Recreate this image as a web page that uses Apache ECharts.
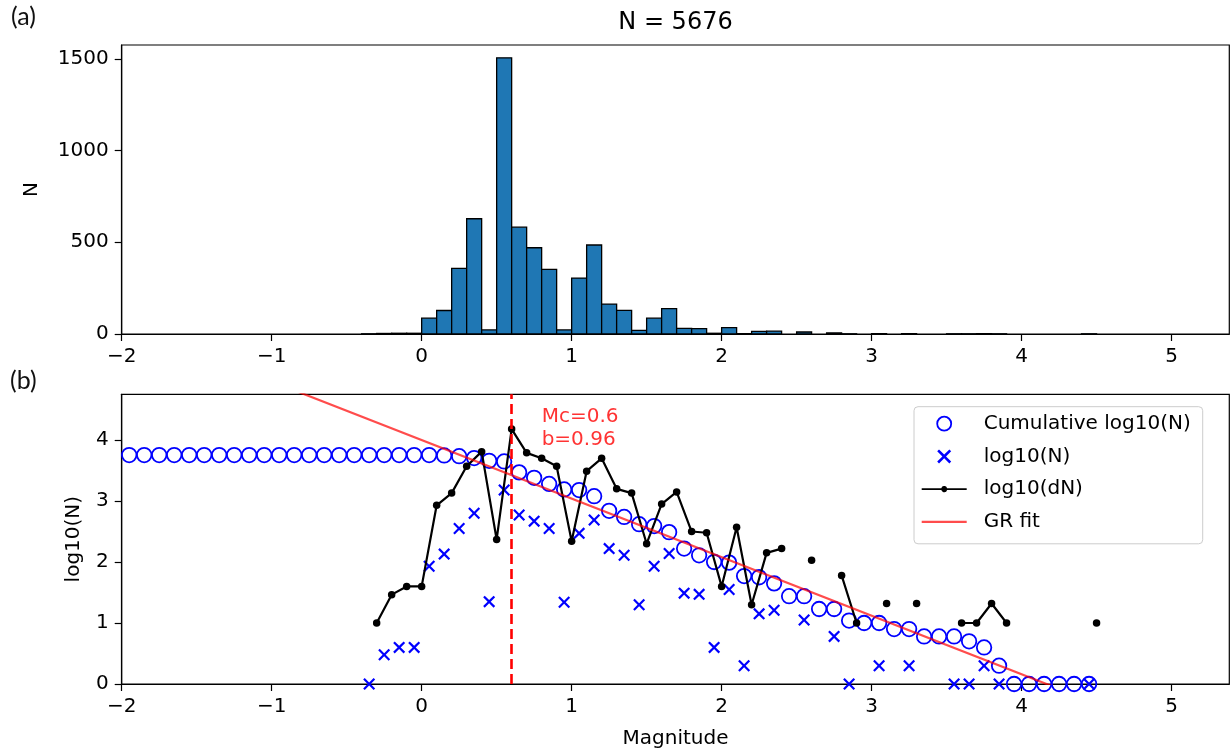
<!DOCTYPE html>
<html><head><meta charset="utf-8">
<script src="https://cdn.jsdelivr.net/npm/echarts@6/dist/echarts.min.js"></script>
<style>html,body{margin:0;padding:0;background:#fff}#c{width:1231px;height:754px}</style>
</head><body><div id="c"></div>
<script>
// ---------- data ----------
const xTicks = [-2, -1, 0, 1, 2, 3, 4, 5];
const histYTicks = [0, 500, 1000, 1500];
const logYTicks = [0, 1, 2, 3, 4];
const binWidth = 0.1;
const totalN = 5676;

// histogram (panel a): bin centres and counts
const histCenters = [-0.35,-0.25,-0.15,-0.05,0.05,0.15,0.25,0.35,0.45,0.55,0.65,0.75,0.85,0.95,1.05,1.15,1.25,1.35,1.45,1.55,1.65,1.75,1.85,1.95,2.05,2.15,2.25,2.35,2.55,2.75,2.85,3.05,3.25,3.55,3.65,3.75,3.85,4.45];
const histCounts  = [1,3,4,4,86,128,358,628,22,1505,582,470,352,22,305,485,163,129,20,86,138,31,29,4,35,2,14,16,11,6,1,2,2,1,1,2,1,1];

// log10(N) per bin (panel b, crosses)
const logNMags   = [-0.35,-0.25,-0.15,-0.05,0.05,0.15,0.25,0.35,0.45,0.55,0.65,0.75,0.85,0.95,1.05,1.15,1.25,1.35,1.45,1.55,1.65,1.75,1.85,1.95,2.05,2.15,2.25,2.35,2.55,2.75,2.85,3.05,3.25,3.55,3.65,3.75,3.85,4.45];
const logNValues = [0,0.48,0.60,0.60,1.93,2.13,2.55,2.80,1.35,3.18,2.77,2.67,2.55,1.34,2.47,2.69,2.22,2.11,1.30,1.93,2.14,1.49,1.47,0.60,1.55,0.30,1.15,1.21,1.05,0.78,0,0.30,0.30,0,0,0.30,0,0];

// cumulative log10(N) (panel b, open circles)
const cumMags = [-1.95,-1.85,-1.75,-1.65,-1.55,-1.45,-1.35,-1.25,-1.15,-1.05,-0.95,-0.85,-0.75,-0.65,-0.55,-0.45,-0.35,-0.25,-0.15,-0.05,0.05,0.15,0.25,0.35,0.45,0.55,0.65,0.75,0.85,0.95,1.05,1.15,1.25,1.35,1.45,1.55,1.65,1.75,1.85,1.95,2.05,2.15,2.25,2.35,2.45,2.55,2.65,2.75,2.85,2.95,3.05,3.15,3.25,3.35,3.45,3.55,3.65,3.75,3.85,3.95,4.05,4.15,4.25,4.35,4.45];
const cumValues = [3.754,3.754,3.754,3.754,3.754,3.754,3.754,3.754,3.754,3.754,3.754,3.754,3.754,3.754,3.754,3.754,3.754,3.754,3.754,3.753,3.753,3.747,3.736,3.705,3.66,3.65,3.47,3.38,3.28,3.19,3.18,3.08,2.84,2.74,2.62,2.59,2.49,2.22,2.11,2.00,1.99,1.77,1.75,1.65,1.44,1.44,1.23,1.23,1.04,1.00,1.00,0.90,0.90,0.78,0.78,0.78,0.70,0.60,0.30,0,0,0,0,0,0];

// log10(dN) (panel b, black line; null = gap)
const dNMags   = [-0.3,-0.2,-0.1,0.0,0.1,0.2,0.3,0.4,0.5,0.6,0.7,0.8,0.9,1.0,1.1,1.2,1.3,1.4,1.5,1.6,1.7,1.8,1.9,2.0,2.1,2.2,2.3,2.4,2.5,2.6,2.7,2.8,2.9,3.0,3.1,3.2,3.3,3.4,3.5,3.6,3.7,3.8,3.9,4.0,4.1,4.2,4.3,4.4,4.5];
const dNValues = [1.00,1.465,1.60,1.60,2.93,3.13,3.57,3.81,2.37,4.18,3.79,3.70,3.57,2.34,3.49,3.70,3.20,3.13,2.30,2.95,3.15,2.50,2.48,1.60,2.57,1.30,2.15,2.22,null,2.03,null,1.78,1.00,null,1.32,null,1.32,null,null,1.00,1.00,1.32,1.00,null,null,null,null,null,1.00];

// Gutenberg-Richter fit and completeness magnitude
const mc = 0.6;
const bValue = 0.96;
const aValue = 4.0;
const fitRange = [-2, 4.5];

const seriesNames = ['Cumulative log10(N)', 'log10(N)', 'log10(dN)', 'GR fit'];

// ---------- chart ----------
const FONT = 'DejaVu Sans';
const xMin = -2, xMax = 5.385;
const gridLeft = 121.7, gridWidth = 1107.6;
const blue = '#0000ff';
const fitColor = 'rgba(255,0,0,0.7)';
const xPath = 'path://M1.3,0 L5,3.7 L8.7,0 L10,1.3 L6.3,5 L10,8.7 L8.7,10 L5,6.3 L1.3,10 L0,8.7 L3.7,5 L0,1.3 Z';
const dNIcon = 'path://M0,3.1 L19.6,3.1 A3,3 0 0,1 25.4,3.1 L45,3.1 L45,4.9 L25.4,4.9 A3,3 0 0,1 19.6,4.9 L0,4.9 Z';
const fitIcon = 'path://M0,0 L45,0 L45,2.2 L0,2.2 Z';

const numFmt = v => (Math.abs(v - Math.round(v)) < 1e-9 ? String(Math.round(v)).replace('-', '\u2212') : '');

function xAxisCfg(gridIndex, withName) {
  const ax = {
    type: 'value', gridIndex, min: xMin, max: xMax, interval: 1,
    axisLine: { show: true, onZero: false, lineStyle: { color: '#000', width: 1.2 } },
    axisTick: { show: true, length: 7, customValues: xTicks, lineStyle: { color: '#000', width: 1.2 } },
    axisLabel: { customValues: xTicks, formatter: numFmt, fontFamily: FONT, fontSize: 20, color: '#000', margin: 13 },
    splitLine: { show: false }
  };
  if (withName) {
    ax.name = 'Magnitude'; ax.nameLocation = 'middle'; ax.nameGap = 45;
    ax.nameTextStyle = { fontFamily: FONT, fontSize: 20, color: '#000' };
  }
  return ax;
}
function yAxisCfg(gridIndex, min, max, ticks, name, nameGap) {
  return {
    type: 'value', gridIndex, min, max, name, nameLocation: 'middle', nameGap,
    nameTextStyle: { fontFamily: FONT, fontSize: 20, color: '#000' },
    axisLine: { show: true, onZero: false, lineStyle: { color: '#000', width: 1.2 } },
    axisTick: { show: true, length: 7, customValues: ticks, lineStyle: { color: '#000', width: 1.2 } },
    axisLabel: { customValues: ticks, formatter: numFmt, fontFamily: FONT, fontSize: 20, color: '#000', margin: 13 },
    splitLine: { show: false }
  };
}

const chart = echarts.init(document.getElementById('c'), null, { renderer: 'canvas' });
const option = {
  animation: false,
  backgroundColor: '#fff',
  graphic: [
    { type: 'text', left: 11, top: 4, style: { text: '(a)', fontFamily: 'Lato', fontSize: 25, fill: '#111' } },
    { type: 'text', left: 10, top: 368, style: { text: '(b)', fontFamily: 'Lato', fontSize: 25, fill: '#111' } },
    { type: 'text', x: gridLeft + gridWidth / 2, y: 23, style: { text: 'N = ' + totalN, fontFamily: FONT, fontSize: 24, fill: '#000', align: 'center', verticalAlign: 'middle' } }
  ],
  grid: [
    { left: gridLeft, width: gridWidth, top: 45, height: 289, show: true, borderColor: '#000', borderWidth: 1.2, backgroundColor: 'transparent' },
    { left: gridLeft, width: gridWidth, top: 394.3, height: 289.7, show: true, borderColor: '#000', borderWidth: 1.2, backgroundColor: 'transparent' }
  ],
  xAxis: [xAxisCfg(0, false), xAxisCfg(1, true)],
  yAxis: [
    yAxisCfg(0, 0, 1575, histYTicks, 'N', 80),
    yAxisCfg(1, 0, 4.75, logYTicks, 'log10(N)', 38)
  ],
  legend: {
    orient: 'vertical', left: 914, top: 406.7,
    data: [
      { name: seriesNames[0], icon: 'circle', itemStyle: { color: 'rgba(0,0,0,0)', borderColor: blue, borderWidth: 1.8, opacity: 1 } },
      { name: seriesNames[1], icon: xPath, itemStyle: { color: blue, borderWidth: 0, opacity: 1 } },
      { name: seriesNames[2], icon: dNIcon, itemStyle: { color: '#000', borderWidth: 0, opacity: 1 } },
      { name: seriesNames[3], icon: fitIcon, itemStyle: { color: fitColor, borderWidth: 0, opacity: 1 } }
    ],
    itemWidth: 45, itemHeight: 14, itemGap: 10.7,
    padding: [6, 12, 11, 7.7],
    backgroundColor: 'rgba(255,255,255,0.8)',
    borderColor: '#cccccc', borderWidth: 1, borderRadius: 4,
    textStyle: { fontFamily: FONT, fontSize: 20, color: '#000', lineHeight: 22, padding: [0, 0, 0, 12] },
    selectedMode: false
  },
  series: [
    {
      type: 'custom', name: 'hist', xAxisIndex: 0, yAxisIndex: 0,
      data: histCenters.map((c, i) => [c, histCounts[i]]),
      encode: { x: 0, y: 1 },
      renderItem: function (params, api) {
        const c = api.value(0), v = api.value(1);
        const p0 = api.coord([c - binWidth / 2, v]);
        const p1 = api.coord([c + binWidth / 2, 0]);
        return { type: 'rect', shape: { x: p0[0], y: p0[1], width: p1[0] - p0[0], height: p1[1] - p0[1] },
                 style: { fill: '#1f77b4', stroke: '#000', lineWidth: 1.3 } };
      }
    },
    {
      type: 'scatter', name: seriesNames[0], xAxisIndex: 1, yAxisIndex: 1, z: 2,
      data: cumMags.map((m, i) => [m, cumValues[i]]),
      symbol: 'circle', symbolSize: 14.5,
      itemStyle: { color: 'rgba(0,0,0,0)', borderColor: blue, borderWidth: 1.8, opacity: 1 }
    },
    {
      type: 'scatter', name: seriesNames[1], xAxisIndex: 1, yAxisIndex: 1, z: 3,
      data: logNMags.map((m, i) => [m, logNValues[i]]),
      symbol: xPath, symbolSize: 12,
      itemStyle: { color: blue, opacity: 1 }
    },
    {
      type: 'line', name: seriesNames[2], xAxisIndex: 1, yAxisIndex: 1, z: 4,
      data: dNMags.map((m, i) => [m, dNValues[i]]),
      symbol: 'circle', symbolSize: 7.5, showSymbol: true, connectNulls: false,
      lineStyle: { color: '#000', width: 2.2 },
      itemStyle: { color: '#000' }
    },
    {
      type: 'line', name: seriesNames[3], xAxisIndex: 1, yAxisIndex: 1, z: 5,
      data: fitRange.map(m => [m, aValue - bValue * m]),
      symbol: 'none', clip: true,
      lineStyle: { color: fitColor, width: 2.2 },
      markLine: {
        silent: true, symbol: ['none', 'none'], label: { show: false },
        lineStyle: { color: '#ff0000', type: [10, 5], width: 2.6 },
        data: [{ xAxis: mc }]
      }
    },
    {
      type: 'scatter', name: 'annotation', xAxisIndex: 1, yAxisIndex: 1, z: 6,
      data: [[mc + 0.2, 4.19]], symbolSize: 0,
      label: { show: true, position: 'right', distance: 0, formatter: 'Mc=' + mc + '\nb=' + bValue,
               fontFamily: FONT, fontSize: 20, lineHeight: 23, color: '#ff0000' }
    }
  ]
};
chart.setOption(option);
</script>
</body></html>
